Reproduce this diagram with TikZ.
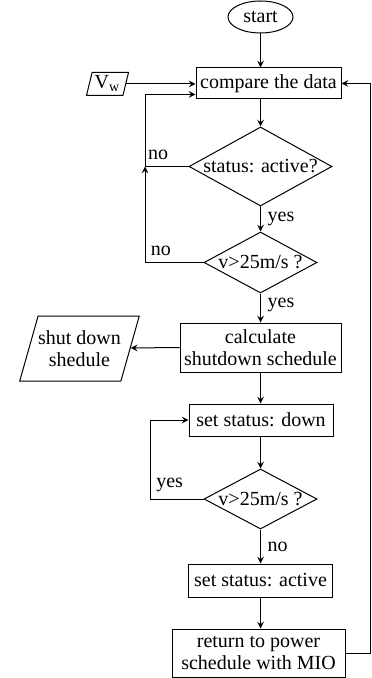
\documentclass[tikz,border=0pt]{standalone}
\usepackage{fontspec}
\setmainfont{Liberation Serif}
\usetikzlibrary{shapes.geometric}

\begin{document}
\begin{tikzpicture}[x=0.5pt,y=-0.5pt,line width=0.5pt,
    every node/.style={font=\rmfamily\fontsize{10}{11}\selectfont},
    box/.style={draw,rectangle,inner sep=0pt,align=center},
    cond/.style={draw,diamond,inner sep=0pt},
    io/.style={draw,trapezium,trapezium stretches body,inner sep=0pt,align=center}]
    \useasboundingbox (0,0) rectangle (371,678);
    \node[draw,ellipse,inner sep=0pt,minimum width=32.5pt,minimum height=16pt] (start) at (260.5,17) {start};
    \node[box,minimum width=72.5pt,minimum height=15.5pt] (compare) at (268.5,83.5) {compare the data};
    \node[io,trapezium left angle=71,trapezium right angle=109,minimum width=21pt,minimum height=11.5pt] (vw) at (107.5,84) {V\textsubscript{w}};
    \node[cond,minimum width=71.5pt,minimum height=39.5pt,label=center:{status: active?}] (d1) at (260.5,166.5) {};
    \node[cond,minimum width=56.5pt,minimum height=30.5pt,label=center:{v>25m/s ?}] (d2) at (260.5,262.5) {};
    \node[box,minimum width=80.5pt,minimum height=24.5pt] (calc) at (260.5,347.5) {calculate\\shutdown schedule};
    \node[io,trapezium left angle=63,trapezium right angle=117,minimum width=56pt,minimum height=32.5pt] (shut) at (79.5,348.5) {shut down\\shedule};
    \node[box,minimum width=72pt,minimum height=16pt] (down) at (261,420) {set status: down};
    \node[cond,minimum width=56.5pt,minimum height=30pt,label=center:{v>25m/s ?}] (d3) at (260.5,499) {};
    \node[box,minimum width=72pt,minimum height=16.5pt] (active) at (260.5,580.5) {set status: active};
    \node[box,minimum width=86.5pt,minimum height=24pt] (ret) at (258.5,653) {return to power\\schedule with MIO};
    \coordinate (j1) at (145,166.5);
    \path[-stealth]
    (start) edge (start |- compare.north)
    (compare.south -| d1) edge (d1)
    (d1) edge node [right] {yes} (d2)
    (d2) edge node [right,pos=0.4] {yes} (calc)
    (calc.west) edge (shut)
    (calc.south -| d1) edge (down.north -| d1)
    (down.south -| d1) edge (d3)
    (d3) edge node [right] {no} (active)
    (active) edge (active |- ret.north)
    (vw.east) edge (vw.east -| compare.west);
    \draw[-stealth] (d1.west) -- node[pos=0.7,above] {no} (j1) |- ([yshift=-5.5pt]compare.west);
    \draw[-stealth] (d2.west) -- node[pos=0.73,above] {no} (d2.west -| j1) -- (j1);
    \draw[-stealth] (d3.west) -- node[pos=0.64,above] {yes} ++(-53,0) |- (down.west);
    \draw[-stealth] (ret.east) -- ++(25,0) |- (compare.east);
\end{tikzpicture}
\end{document}
